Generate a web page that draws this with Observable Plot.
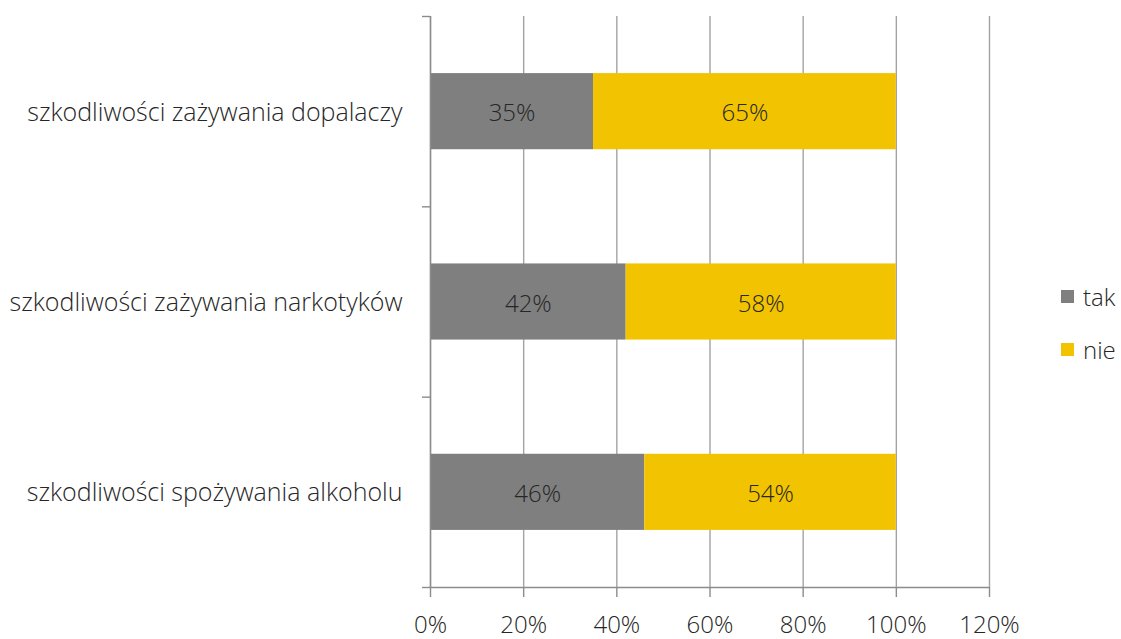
<!DOCTYPE html>
<html>
<head>
<meta charset="utf-8">
<script src="https://cdn.jsdelivr.net/npm/d3@7"></script>
<script src="https://cdn.jsdelivr.net/npm/@observablehq/plot@0.6"></script>
<style>
  body { margin: 0; background: #fff; font-family: 'Open Sans', sans-serif; }
  #wrap { position: relative; width: 1121px; height: 639px; }
  #legend { position: absolute; left: 1061px; top: 280px; font-size: 24px; font-weight: 300; color: #262626; }
  .li { display: flex; align-items: center; height: 32px; margin-bottom: 21px; }
  .sw { width: 13px; height: 13px; margin-right: 9px; }
</style>
</head>
<body>
<div id="wrap"><div id="legend"></div></div>
<script>
const categories = [
  "szkodliwości zażywania dopalaczy",
  "szkodliwości zażywania narkotyków",
  "szkodliwości spożywania alkoholu"
];
const seriesNames = ["tak", "nie"];
const tak = [35, 42, 46];
const nie = [65, 58, 54];
const xTicks = [0, 20, 40, 60, 80, 100, 120];
const colors = ["#7f7f7f", "#f2c300"];

const data = categories.flatMap((c, i) => [
  {cat: c, i, series: "tak", value: tak[i], start: 0, end: tak[i]},
  {cat: c, i, series: "nie", value: nie[i], start: tak[i], end: tak[i] + nie[i]}
]);

const font = "'Open Sans', sans-serif";
const axisColor = "#8c8c8c";

const chart = Plot.plot({
  width: 1121,
  height: 639,
  marginLeft: 430,
  marginRight: 132,
  marginTop: 16,
  marginBottom: 52,
  style: {fontFamily: font, fontSize: "24px", fontWeight: 300, color: "#262626", background: "transparent"},
  x: {domain: [0, 120], axis: null},
  y: {domain: [0, 3], reverse: true, axis: null},
  color: {domain: seriesNames, range: colors},
  marks: [
    Plot.gridX(xTicks, {stroke: "#a3a3a3", strokeOpacity: 1, strokeWidth: 1.4}),
    Plot.rectX(data, {x1: "start", x2: "end", y1: d => d.i + 0.3, y2: d => d.i + 0.7, fill: "series"}),
    Plot.text(data, {x: d => (d.start + d.end) / 2, y: d => d.i + 0.5, dy: 2, text: d => d.value + "%", fill: "#262626", fontSize: 24, fontWeight: 300}),
    Plot.ruleX([0], {stroke: axisColor, strokeWidth: 1.4}),
    Plot.ruleY([3], {stroke: axisColor, strokeWidth: 1.4}),
    Plot.axisY([0, 1, 2, 3], {tickSize: 8, tickFormat: () => "", stroke: axisColor, strokeWidth: 1.4}),
    Plot.axisY([0.5, 1.5, 2.5], {tickSize: 0, tickPadding: 28, dy: 1, tickFormat: v => categories[Math.floor(v)], fontSize: 25, fill: "#262626"}),
    Plot.axisX(xTicks, {anchor: "bottom", tickSize: 10, tickPadding: 18, tickFormat: d => d + "%", fontSize: 24, fill: "#262626", stroke: axisColor, strokeWidth: 1.4})
  ]
});

document.getElementById("wrap").prepend(chart);

const legend = document.getElementById("legend");
seriesNames.forEach((s, k) => {
  const row = document.createElement("div");
  row.className = "li";
  const sw = document.createElement("span");
  sw.className = "sw";
  sw.style.background = colors[k];
  const t = document.createElement("span");
  t.textContent = s;
  row.append(sw, t);
  legend.append(row);
});
</script>
</body>
</html>
